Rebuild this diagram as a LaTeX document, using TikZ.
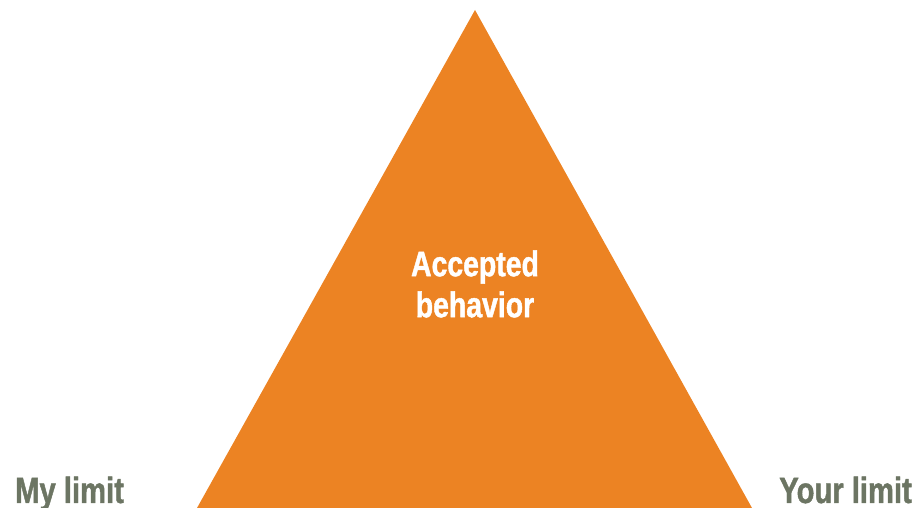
\documentclass[tikz,border=0pt]{standalone}
\usepackage{fontspec}
\setmainfont{Liberation Sans}[FakeStretch=0.8, FakeBold=1.2]
\definecolor{limitorange}{HTML}{EC8323}
\definecolor{limitgrey}{HTML}{6C7563}
\tikzset{
  limit/.style = {text=limitgrey, font=\fontsize{36.5}{40}\selectfont\bfseries, inner sep=0pt},
  inside/.style = {text=white, font=\fontsize{35.5}{41}\selectfont\bfseries, align=center, inner sep=0pt}
}

\begin{document}
\begin{tikzpicture}[x=1pt, y=1pt]
  \useasboundingbox (0,0) rectangle (924,508);
  \coordinate (top)   at (475,498);
  \coordinate (left)  at (197,0);
  \coordinate (right) at (752,0);
  \fill[limitorange] (left) -- (top) -- (right) -- cycle;
  \node [inside] (accepted) at (475,224) {Accepted\\behavior};
  \node [limit, anchor=base west] (mine)  at (15,5)  {My limit};
  \node [limit, anchor=base east] (yours) at (912,5) {Your limit};
\end{tikzpicture}
\end{document}
